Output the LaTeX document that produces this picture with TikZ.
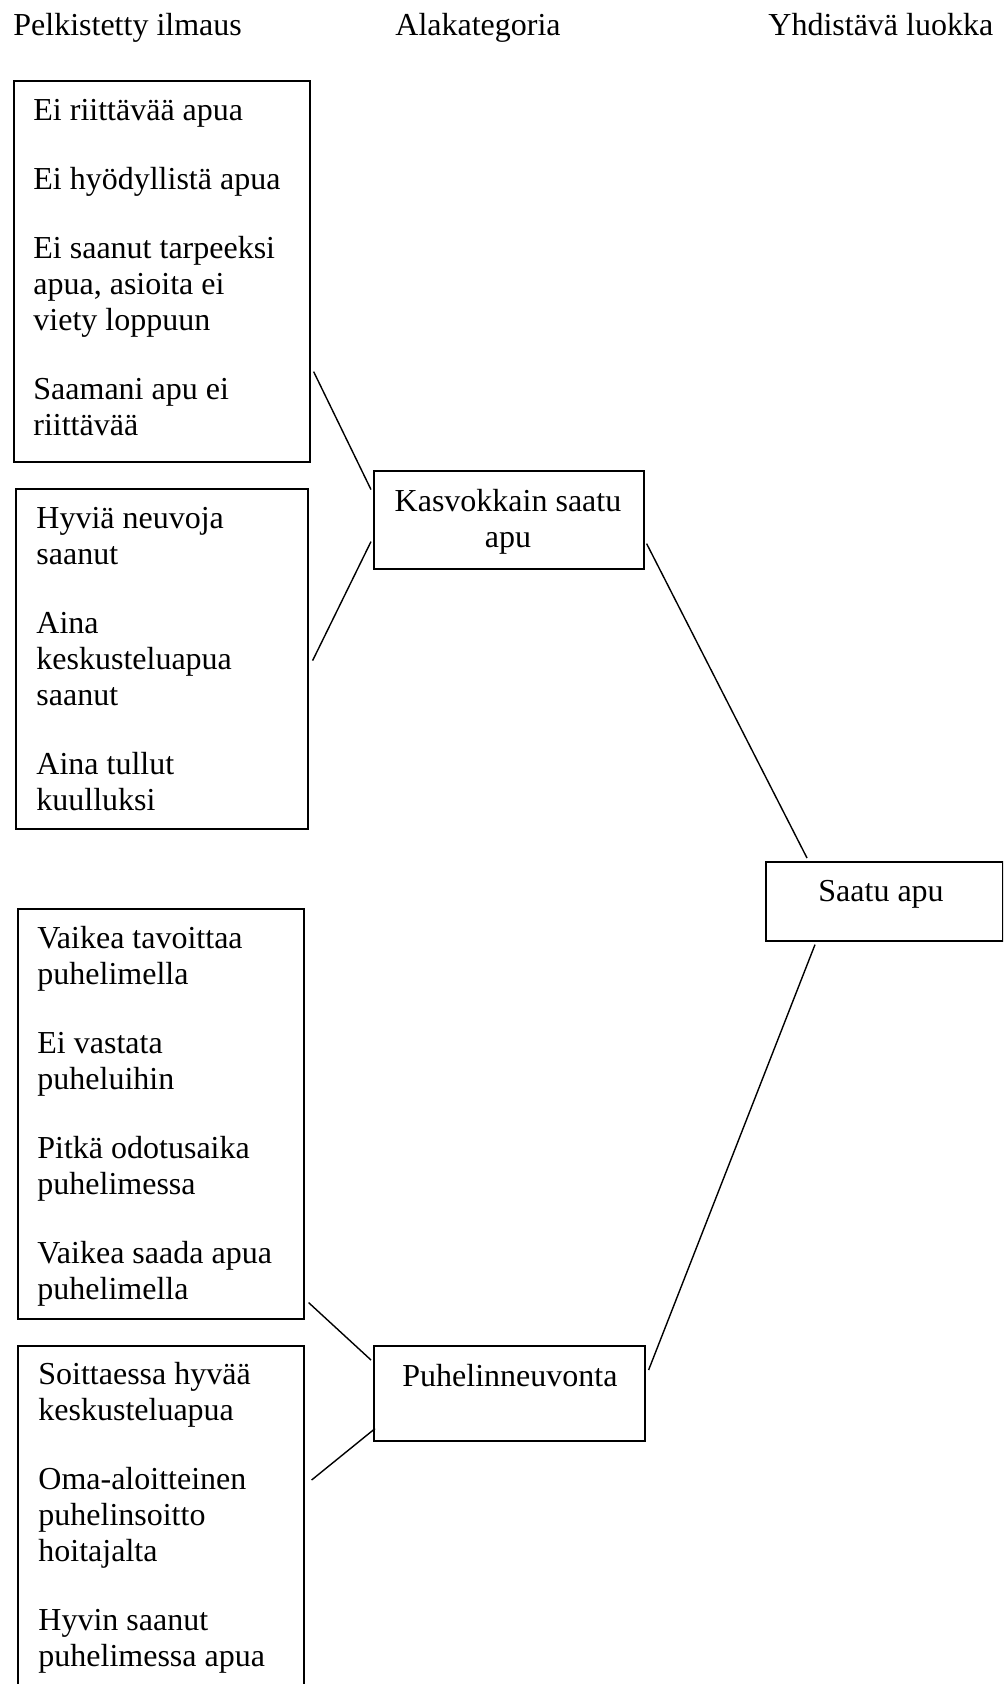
\documentclass[tikz,border=0pt]{standalone}
\usepackage{fontspec}
\setmainfont{Liberation Serif}
\usetikzlibrary{calc}
\tikzset{
  box/.style={draw, line width=0.8pt, inner sep=0pt, anchor=north west},
  txt/.style={font=\fontsize{16}{18}\selectfont, inner sep=0pt, anchor=base west, align=flush left, text width=150pt},
  ctxt/.style={font=\fontsize{16}{18}\selectfont, inner sep=0pt, anchor=base, align=flush center, text width=130pt},
  hdr/.style={font=\fontsize{16}{18}\selectfont, inner sep=0pt, anchor=base west},
  link/.style={line width=0.7pt}
}
\begin{document}
\begin{tikzpicture}[x=0.5pt,y=-0.5pt]
\useasboundingbox (0,0) rectangle (1003,1684);
\clip (0,0) rectangle (1003,1684);
% headers
\node[hdr] (h1) at (13,36) {Pelkistetty ilmaus};
\node[hdr] (h2) at (395,36) {Alakategoria};
\node[hdr] (h3) at (768,36) {Yhdistävä luokka};
% left boxes
\node[box, minimum width=148pt, minimum height=190.5pt] (b1) at (13,80) {};
\node[txt] (t1) at (33,121) {Ei riittävää apua\\[16.5pt]Ei hyödyllistä apua\\[16.5pt]Ei saanut tarpeeksi\\apua, asioita ei\\viety loppuun\\[16.5pt]Saamani apu ei\\riittävää};
\node[box, minimum width=146pt, minimum height=170pt] (b2) at (15,488) {};
\node[txt] (t2) at (36,528) {Hyviä neuvoja\\saanut\\[16.5pt]Aina\\keskusteluapua\\saanut\\[16.5pt]Aina tullut\\kuulluksi};
\node[box, minimum width=143pt, minimum height=205pt] (b3) at (17,908) {};
\node[txt] (t3) at (37,948) {Vaikea tavoittaa\\puhelimella\\[16.5pt]Ei vastata\\puheluihin\\[16.5pt]Pitkä odotusaika\\puhelimessa\\[16.5pt]Vaikea saada apua\\puhelimella};
\node[box, minimum width=143pt, minimum height=180pt] (b4) at (17,1345) {};
\node[txt] (t4) at (38,1384) {Soittaessa hyvää\\keskusteluapua\\[16.5pt]Oma-aloitteinen\\puhelinsoitto\\hoitajalta\\[16.5pt]Hyvin saanut\\puhelimessa apua};
% middle boxes
\node[box, minimum width=135pt, minimum height=49pt] (k) at (373,470) {};
\node[ctxt] (kt) at (508,511) {Kasvokkain saatu\\apu};
\node[box, minimum width=135.5pt, minimum height=47.5pt] (p) at (373,1345) {};
\node[hdr] (pt) at (402,1386) {Puhelinneuvonta};
% right box
\node[box, minimum width=118.5pt, minimum height=39.5pt] (s) at (765,861) {};
\node[hdr] (st) at (818,901) {Saatu apu};
% connectors
\draw[link] ($(b1.south east)+(3,-91)$) -- ($(k.south west)+(-2,-80)$);
\draw[link] ($(b2.south east)+(4,-169)$) -- ($(k.south west)+(-2,-28)$);
\draw[link] ($(k.south east)+(2,-26)$) -- ($(s.north west)+(42,-3)$);
\draw[link] ($(s.south west)+(50,3)$) -- ($(p.north east)+(3,25)$);
\draw[link] ($(b3.south east)+(4,-17)$) -- ($(p.north west)+(-2,15)$);
\draw[link] ($(b4.north east)+(7,135)$) -- ($(p.south west)+(2,-13)$);
\end{tikzpicture}
\end{document}
